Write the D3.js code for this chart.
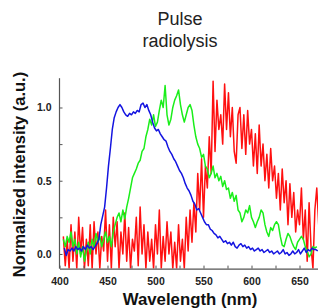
<!DOCTYPE html>
<html>
<head>
<meta charset="utf-8">
<script src="https://cdn.jsdelivr.net/npm/d3@7"></script>
<style>
  body { margin: 0; background: #fff; }
  svg { font-family: "Liberation Sans", Arial, sans-serif; }
</style>
</head>
<body>
<div id="chart"></div>
<script>
// wavelength grids (nm)
const redX = d3.range(404, 671, 2);
const blueX = d3.range(405, 670, 2);
const greenX = d3.range(404, 669, 2);

const redY = [0.12, -0.08, 0.1, -0.1, 0.2, -0.05, 0.15, -0.1, 0.25, 0.0, 0.18, -0.1, 0.1, -0.08, 0.2, -0.1,
  0.22, 0.0, 0.15, -0.1, 0.12, 0.02, 0.3, -0.05, 0.2, -0.1, 0.25, 0.05, 0.22, -0.1, 0.15, 0.0,
  0.28, -0.05, 0.18, -0.1, 0.1, 0.02, 0.25, -0.08, 0.32, 0.0, 0.2, -0.1, 0.15, -0.05, 0.1, -0.1,
  0.2, 0.0, 0.3, -0.1, 0.12, -0.05, 0.22, 0.0, 0.15, -0.1, 0.08, -0.1, 0.2, -0.05, 0.1, -0.1,
  0.25, 0.02, 0.3, 0.08, 0.35, 0.15, 0.55, 0.3, 0.65, 0.25, 0.6, 0.45, 0.8, 0.55, 1.18, 0.7,
  1.05, 0.85, 0.95, 0.75, 1.16, 0.85, 1.1, 0.8, 1.0, 0.7, 0.62, 0.95, 1.0, 0.72, 0.95, 0.68,
  0.98, 0.75, 0.85, 0.6, 0.82, 0.55, 0.88, 0.6, 0.75, 0.5, 0.68, 0.45, 0.72, 0.5, 0.6, 0.38,
  0.55, 0.3, 0.58, 0.35, 0.5, 0.2, 0.48, 0.25, 0.42, 0.15, 0.3, 0.2, 0.45, 0.1, 0.3, -0.05,
  0.35, 0.05, -0.1, 0.3, 0.45, 0.2];

const blueY = [0.04, -0.01, 0.03, 0.02, 0.04, 0.02, 0.05, 0.03, 0.04, 0.02, 0.05, 0.03, 0.06, 0.04, 0.05, 0.03,
  0.05, 0.07, 0.1, 0.2, 0.26, 0.32, 0.45, 0.6, 0.72, 0.85, 0.93, 0.97, 1.0, 1.02, 1.0, 0.97,
  0.95, 0.94, 0.96, 0.95, 0.97, 0.96, 0.98, 0.97, 1.02, 1.03, 1.0, 1.02, 0.98, 0.95, 0.9, 0.86,
  0.84, 0.85, 0.82, 0.8, 0.78, 0.77, 0.73, 0.7, 0.68, 0.65, 0.63, 0.6, 0.57, 0.55, 0.52, 0.48,
  0.45, 0.43, 0.4, 0.36, 0.34, 0.3, 0.31, 0.28, 0.25, 0.22, 0.2, 0.2, 0.17, 0.16, 0.14, 0.13,
  0.11, 0.12, 0.1, 0.08, 0.09, 0.07, 0.08, 0.06, 0.08, 0.05, 0.04, 0.06, 0.07, 0.05, 0.06, 0.04,
  0.05, 0.03, 0.04, 0.02, 0.03, 0.04, 0.02, 0.03, 0.01, 0.02, 0.03, 0.01, 0.02, 0.0, 0.01, 0.02,
  0.0, 0.01, 0.03, 0.0, 0.01, -0.01, 0.0, 0.02, 0.0, 0.01, 0.03, 0.0, 0.02, 0.04, 0.01, 0.03,
  0.02, 0.04, 0.03, 0.03, 0.02];

const greenY = [0.1, 0.05, 0.12, 0.08, 0.15, 0.05, 0.1, 0.0, 0.08, -0.02, 0.05, -0.05, 0.02, 0.08, 0.0, 0.1,
  0.05, 0.14, 0.08, 0.12, 0.05, 0.1, 0.15, 0.08, 0.12, 0.05, 0.15, 0.2, 0.25, 0.28, 0.22, 0.3,
  0.24, 0.32, 0.38, 0.45, 0.52, 0.55, 0.58, 0.62, 0.64, 0.7, 0.72, 0.8, 0.85, 0.92, 0.88, 0.95,
  0.87, 0.9, 0.98, 1.05, 1.0, 1.15, 0.95, 0.88, 0.92, 1.0, 1.05, 1.08, 1.12, 1.02, 0.95, 0.9,
  0.95, 1.0, 1.02, 0.98, 0.88, 0.8, 0.75, 0.72, 0.66, 0.68, 0.6, 0.58, 0.52, 0.55, 0.6, 0.52,
  0.55, 0.5, 0.53, 0.46, 0.5, 0.44, 0.45, 0.38, 0.42, 0.36, 0.4, 0.3, 0.28, 0.22, 0.25, 0.3,
  0.28, 0.33, 0.25, 0.22, 0.18, 0.22, 0.25, 0.3, 0.28, 0.2, 0.15, 0.12, 0.18, 0.16, 0.2, 0.22,
  0.2, 0.12, 0.06, 0.05, 0.1, 0.14, 0.12, 0.08, 0.05, 0.03, 0.08, 0.1, 0.12, 0.1, 0.05, 0.02,
  -0.02, 0.0, 0.05, 0.04, 0.05];

const xTicks = [400, 450, 500, 550, 600, 650];
const yTicks = [0.0, 0.5, 1.0];

const W = 318, H = 308;
const svg = d3.select("#chart").append("svg").attr("width", W).attr("height", H);

const x = d3.scaleLinear().domain([400, 670]).range([59.5, 318.7]);
const y = d3.scaleLinear().domain([-0.1, 1.2]).range([268.6, 78.2]);

svg.append("clipPath").attr("id", "plot").append("rect")
  .attr("x", 59.5).attr("y", 70).attr("width", W - 59.5).attr("height", 268.6 - 70);

// curves
const series = [
  {xs: redX, ys: redY, color: "#ff1010"},
  {xs: greenX, ys: greenY, color: "#1aee1a"},
  {xs: blueX, ys: blueY, color: "#1414e0"}
];
const line = d3.line().x(d => x(d[0])).y(d => y(d[1]));
series.forEach(s => {
  svg.append("path")
    .datum(s.xs.map((v, i) => [v, s.ys[i]]))
    .attr("clip-path", "url(#plot)")
    .attr("fill", "none")
    .attr("stroke", s.color)
    .attr("stroke-width", 1.5)
    .attr("stroke-linejoin", "round")
    .attr("d", line);
});

// axes
const xAxis = svg.append("g").attr("transform", "translate(0,268.6)")
  .call(d3.axisBottom(x).tickValues(d3.range(400, 671, 25)).tickSizeInner(-3).tickSizeOuter(0)
    .tickFormat(d => xTicks.includes(d) ? d : ""));
const yAxis = svg.append("g").attr("transform", "translate(59.5,0)")
  .call(d3.axisLeft(y).tickValues([0, 0.25, 0.5, 0.75, 1.0]).tickSizeInner(-3).tickSizeOuter(0)
    .tickFormat(d => yTicks.includes(d) ? d3.format(".1f")(d) : ""));
[xAxis, yAxis].forEach(g => {
  g.select(".domain").attr("stroke", "#555").attr("stroke-width", 1.2);
  g.selectAll(".tick line").attr("stroke", "#555");
  g.selectAll("text").attr("fill", "#222").style("font-weight", "bold").style("font-size", "10.5px");
});
xAxis.selectAll("text").attr("y", 9);
yAxis.selectAll("text").attr("x", -8);
yAxis.select(".domain").attr("d", "M0,78.2V268.6");

// titles
svg.append("text").attr("x", 180).attr("y", 25).attr("text-anchor", "middle")
  .attr("fill", "#222").style("font-size", "18px").text("Pulse");
svg.append("text").attr("x", 180).attr("y", 47).attr("text-anchor", "middle")
  .attr("fill", "#222").style("font-size", "18px").text("radiolysis");
svg.append("text").attr("x", 190).attr("y", 304.5).attr("text-anchor", "middle")
  .attr("fill", "#111").style("font-size", "16.8px").style("font-weight", "bold").text("Wavelength (nm)");
svg.append("text").attr("transform", "translate(25,174.5) rotate(-90)").attr("text-anchor", "middle")
  .attr("fill", "#111").style("font-size", "16.5px").style("font-weight", "bold").text("Normalized intensity (a.u.)");
</script>
</body>
</html>
